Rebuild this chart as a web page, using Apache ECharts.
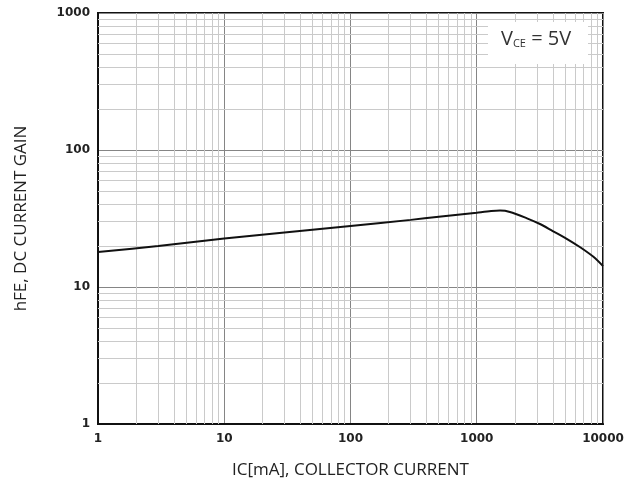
<!DOCTYPE html>
<html>
<head>
<meta charset="utf-8">
<script src="https://cdn.jsdelivr.net/npm/echarts@6/dist/echarts.min.js"></script>
<style>
  html, body { margin: 0; padding: 0; background: #fff; }
  #main { width: 642px; height: 486px; }
</style>
</head>
<body>
<div id="main"></div>
<script>
// collector current (mA) and DC current gain
var icValues = [1, 3, 10, 30, 100, 300, 500, 1000, 1300, 1530, 1830, 2500, 3200, 4000, 5200, 6600, 8400, 10000];
var hfeValues = [18, 19.9, 22.6, 25, 27.9, 30.9, 32.6, 34.9, 35.8, 36.1, 35.3, 31.7, 28.7, 25.6, 22.4, 19.5, 16.6, 14.2];

// minor log grid lines (2..9 in every decade)
var xMinor = [2,3,4,5,6,7,8,9, 20,30,40,50,60,70,80,90, 200,300,400,500,600,700,800,900, 2000,3000,4000,5000,6000,7000,8000,9000];
var yMinor = [2,3,4,5,6,7,8,9, 20,30,40,50,60,70,80,90, 200,300,400,500,600,700,800,900];

var curve = icValues.map(function (v, i) { return [v, hfeValues[i]]; });

var minorLines = xMinor.map(function (v) { return { xAxis: v }; })
  .concat(yMinor.map(function (v) { return { yAxis: v }; }));

var chart = echarts.init(document.getElementById('main'));

var tickLabel = {
  color: '#222',
  fontFamily: 'DejaVu Sans',
  fontWeight: 'bold',
  fontSize: 12,
  formatter: function (v) { return String(v); }
};

chart.setOption({
  animation: false,
  grid: {
    left: 98, top: 13, right: 39, bottom: 62,
    show: true,
    borderColor: '#111',
    borderWidth: 2
  },
  xAxis: {
    type: 'log',
    logBase: 10,
    min: 1,
    max: 10000,
    name: 'IC[mA], COLLECTOR CURRENT',
    nameLocation: 'middle',
    nameGap: 38,
    nameTextStyle: { color: '#222', fontFamily: 'Open Sans', fontSize: 17 },
    axisLine: { lineStyle: { color: '#111', width: 2 } },
    axisTick: { show: false },
    axisLabel: Object.assign({ margin: 9 }, tickLabel),
    splitLine: { show: true, lineStyle: { color: '#858585', width: 1 } }
  },
  yAxis: {
    type: 'log',
    logBase: 10,
    min: 1,
    max: 1000,
    name: 'hFE, DC CURRENT GAIN',
    nameLocation: 'middle',
    nameGap: 68,
    nameRotate: 90,
    nameTextStyle: { color: '#222', fontFamily: 'Open Sans', fontSize: 17 },
    axisLine: { lineStyle: { color: '#111', width: 2 } },
    axisTick: { show: false },
    axisLabel: Object.assign({ margin: 8 }, tickLabel),
    splitLine: { show: true, lineStyle: { color: '#858585', width: 1 } }
  },
  graphic: [{
    type: 'rect',
    z: 50,
    shape: { x: 488, y: 22, width: 100, height: 42 },
    style: { fill: '#fff' }
  }, {
    type: 'text',
    z: 51,
    left: 501,
    top: 29,
    style: {
      text: '{v|V}{s|CE}{v|\u00a0=\u00a05V}',
      rich: {
        v: { fontFamily: 'Open Sans', fontSize: 20, fill: '#333' },
        s: { fontFamily: 'Open Sans', fontSize: 11, fill: '#333', padding: [9, 0, 0, 0] }
      }
    }
  }],
  series: [{
    type: 'line',
    z: 1,
    data: [],
    silent: true,
    markLine: {
      silent: true,
      symbol: 'none',
      animation: false,
      label: { show: false },
      lineStyle: { color: '#cacaca', width: 1, type: 'solid' },
      data: minorLines
    }
  }, {
    type: 'line',
    z: 5,
    data: curve,
    smooth: 0.3,
    showSymbol: false,
    lineStyle: { color: '#111', width: 2 }
  }]
});
</script>
</body>
</html>
